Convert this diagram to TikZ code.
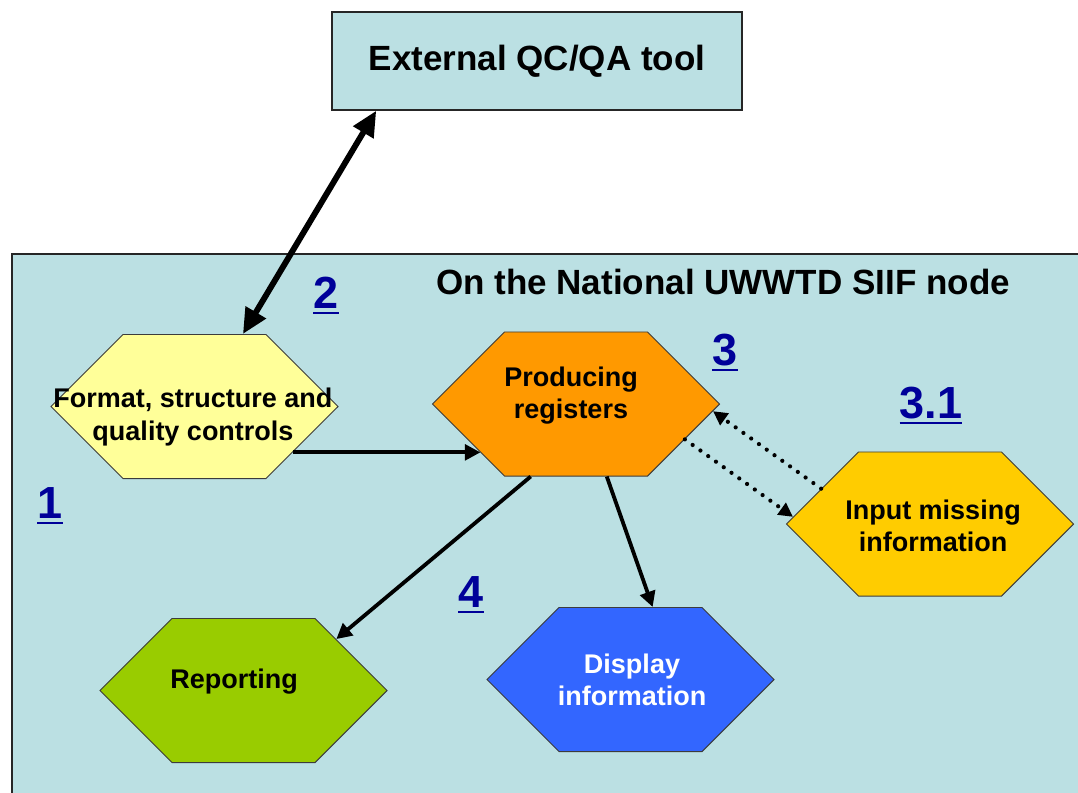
\documentclass[tikz,border=0pt]{standalone}
\usepackage{fontspec}
\setmainfont{Liberation Sans}
\usetikzlibrary{shapes.symbols,arrows.meta,calc}
\definecolor{bgc}{RGB}{187,224,227}
\definecolor{fmtc}{RGB}{255,255,153}
\definecolor{prodc}{RGB}{255,153,0}
\definecolor{inpc}{RGB}{255,204,0}
\definecolor{repc}{RGB}{153,204,0}
\definecolor{dispc}{RGB}{51,102,255}
\definecolor{numc}{RGB}{0,0,153}
\definecolor{edgec}{RGB}{60,60,60}
\newsavebox\numbox
\newcommand\ulnum[1]{\sbox\numbox{#1}\usebox\numbox\kern-\wd\numbox\rule[-4.2pt]{\wd\numbox}{1.4pt}}
\tikzset{
  hexnode/.style={signal, signal to=east and west, signal pointer angle=90,
    minimum width=7.175cm, minimum height=3.6cm, inner sep=0pt,
    draw=edgec, line width=0.7pt},
  htext/.style={font=\bfseries\fontsize{19.2}{22.8}\selectfont, align=center, inner sep=0pt},
  bigtext/.style={font=\bfseries\fontsize{24.9}{28}\selectfont, inner sep=0pt},
  numtext/.style={font=\bfseries\fontsize{32}{36}\selectfont, text=numc, anchor=base, inner sep=0pt},
  extbox/.style={rectangle, draw=black!85, line width=1pt, fill=bgc,
    minimum width=10.25cm, minimum height=2.45cm, inner sep=0pt,
    font=\bfseries\fontsize{24.9}{28}\selectfont},
  solidarr/.style={line width=2.7pt, -{Triangle[length=11pt,width=11pt]}},
  bigarr/.style={line width=4.2pt, {Triangle[length=18pt,width=16pt]}-{Triangle[length=18pt,width=16pt]}},
  dotarr/.style={line width=3pt, line cap=round, dash pattern=on 0pt off 6.8pt,
    -{Triangle[length=10pt,width=10pt]}},
}
\begin{document}
\begin{tikzpicture}[x=0.025cm,y=-0.025cm]
\useasboundingbox (0,0) rectangle (1078,792);
\clip (0,0) rectangle (1078,792);
\fill[white] (0,0) rectangle (1078,792);
\draw[line width=1pt, draw=black!85, fill=bgc] (12,254) rectangle (1100,830);

\node[extbox] (ext) at (537,61) {External QC/QA tool};
\node[bigtext, anchor=base] (ttl) at (723,294) {On the National UWWTD SIIF node};

\node[hexnode, fill=fmtc] (fmt) at (194.5,406.5) {};
\node[hexnode, fill=prodc] (prod) at (576,404) {};
\node[hexnode, fill=inpc] (inp) at (930,524) {};
\node[hexnode, fill=repc] (rep) at (243.5,690.5) {};
\node[hexnode, fill=dispc] (disp) at (630.5,679.5) {};

\node[htext] (fmtt) at (193,417) {Format, structure and\\quality controls};
\node[htext] (prodt) at (571,396) {Producing\\registers};
\node[htext] (inpt) at (933,526) {Input missing\\information};
\node[htext] (rept) at (234,682) {Reporting};
\node[htext, text=white] (dispt) at (632,680) {Display\\information};

\draw[bigarr] ([xshift=1.21cm]fmt.north) -- ([xshift=1.125cm]ext.south west);
\draw[solidarr] (fmt.-25) -- (fmt.-25 -| prod.207);
\draw[solidarr] (prod.238) -- (rep.29);
\draw[solidarr] (prod.-67) -- (disp.73);
\draw[dotarr] (inp.162) -- (prod.-3);
\draw[dotarr] (prod.-18) -- (inp.177);

\node[numtext] (n1) at (50,518) {\ulnum{1}};
\node[numtext] (n2) at (326,308) {\ulnum{2}};
\node[numtext] (n3) at (725,365) {\ulnum{3}};
\node[numtext] (n31) at (931,418) {\ulnum{3.1}};
\node[numtext] (n4) at (471,607) {\ulnum{4}};
\end{tikzpicture}
\end{document}
